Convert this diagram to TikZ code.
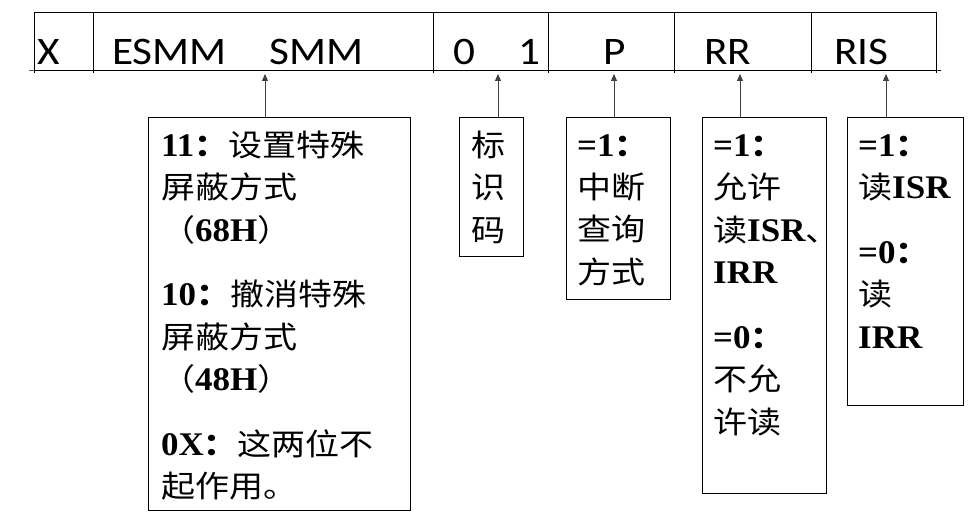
\documentclass[tikz,border=0pt]{standalone}
\usepackage{fontspec}
\setmainfont[FakeStretch=1.06]{Liberation Serif}
\newfontfamily\cjk[Scale=0.92,FakeStretch=1.12]{Noto Sans CJK SC}
\newfontfamily\calfont[FakeStretch=1.11]{Carlito}
\usetikzlibrary{arrows.meta}
\newcommand\zh[1]{{\cjk #1}}
\newcommand\zb[1]{{\cjk\bfseries #1}}
\newcommand\lb[1]{{\bfseries #1}}
\begin{document}
\begin{tikzpicture}[x=1pt,y=-1pt,
  cell/.style={draw, line width=0.8pt, anchor=north west, inner sep=0, outer sep=0, minimum height=58pt},
  toptxt/.style={font=\calfont\fontsize{39}{39}\selectfont, anchor=base west, inner sep=0},
  infobox/.style={draw, line width=0.9pt, anchor=north west, inner sep=0, outer sep=0},
  boxtxt/.style={anchor=base west, inner sep=0, align=left, font=\fontsize{33}{42.5}\selectfont},
  arr/.style={-{Triangle[length=7pt,width=6pt]}, line width=0.9pt, draw=black!75, fill=black}
]
\useasboundingbox (0,0) rectangle (975,532);
% top register row
\node[cell, minimum width=59pt]  (cX)   at (34,12) {};
\node[cell, minimum width=340pt] (cES)  at (93,12) {};
\node[cell, minimum width=115pt] (c01)  at (433,12) {};
\node[cell, minimum width=126pt] (cP)   at (548,12) {};
\node[cell, minimum width=137pt] (cRR)  at (674,12) {};
\node[cell, minimum width=125pt] (cRIS) at (811,12) {};
\draw[line width=0.8pt] (cX.south west) ++(-5,0) coordinate (bl) -- (cRIS.south east) -- ++(5,0) coordinate (br);
\foreach \c in {cX,cES,c01,cP,cRR}{\draw[line width=0.8pt] (\c.south west) -- ++(0,3);}
\draw[line width=0.8pt] (cRIS.south west) -- ++(0,3);
\draw[line width=0.8pt] (cRIS.south east) -- ++(0,3);

\node[toptxt] (tX)    at (37,65)  {X};
\node[toptxt] (tESMM) at (112,65) {ESMM};
\node[toptxt] (tSMM)  at (269,65) {SMM};
\node[toptxt] (t0)    at (453,65) {0};
\node[toptxt] (t1)    at (518,65) {1};
\node[toptxt] (tP)    at (603,65) {P};
\node[toptxt] (tRR)   at (704,65) {RR};
\node[toptxt] (tRIS)  at (834,65) {RIS};

% description boxes
\node[infobox, minimum width=262pt, minimum height=393pt] (b1) at (148,117) {};
\node[infobox, minimum width=64pt,  minimum height=139pt] (b2) at (459,117) {};
\node[infobox, minimum width=104pt, minimum height=182pt] (b3) at (566,117) {};
\node[infobox, minimum width=124pt, minimum height=376pt] (b4) at (702,117) {};
\node[infobox, minimum width=116pt, minimum height=288pt] (b5) at (847,117) {};

% text nodes: anchor = baseline of the last line
\node[boxtxt] (t1box) at (161,497.5) {\lb{11}\zb{：}\zh{设置特殊}\\
\zh{屏蔽方式}\\
\zh{（}\lb{68H}\zh{）}\\[22pt]
\lb{10}\zb{：}\zh{撤消特殊}\\
\zh{屏蔽方式}\\
\zh{（}\lb{48H}\zh{）}\\[22pt]
\lb{0X}\zb{：}\zh{这两位不}\\
\zh{起作用。}};

\node[boxtxt] (t2box) at (471,241) {\zh{标}\\\zh{识}\\\zh{码}};

\node[boxtxt] (t3box) at (577,283.5) {\lb{=1}\zb{：}\\\zh{中断}\\\zh{查询}\\\zh{方式}};

\node[boxtxt] (t4box) at (713,433) {\lb{=1}\zb{：}\\\zh{允许}\\\zh{读}\lb{ISR}\zh{、}\\\lb{IRR}\\[22pt]
\lb{=0}\zb{：}\\\zh{不允}\\\zh{许读}};

\node[boxtxt] (t5box) at (858,348) {\lb{=1}\zb{：}\\\zh{读}\lb{ISR}\\[22pt]
\lb{=0}\zb{：}\\\zh{读}\\\lb{IRR}};

% arrows
\coordinate (e1) at (265,74);
\coordinate (e2) at (498,74);
\coordinate (e3) at (614,74);
\coordinate (e4) at (740,74);
\coordinate (e5) at (886,74);
\draw[arr] (b1.north -| e1) -- (e1);
\draw[arr] (b2.north -| e2) -- (e2);
\draw[arr] (b3.north -| e3) -- (e3);
\draw[arr] (b4.north -| e4) -- (e4);
\draw[arr] (b5.north -| e5) -- (e5);
\end{tikzpicture}
\end{document}
